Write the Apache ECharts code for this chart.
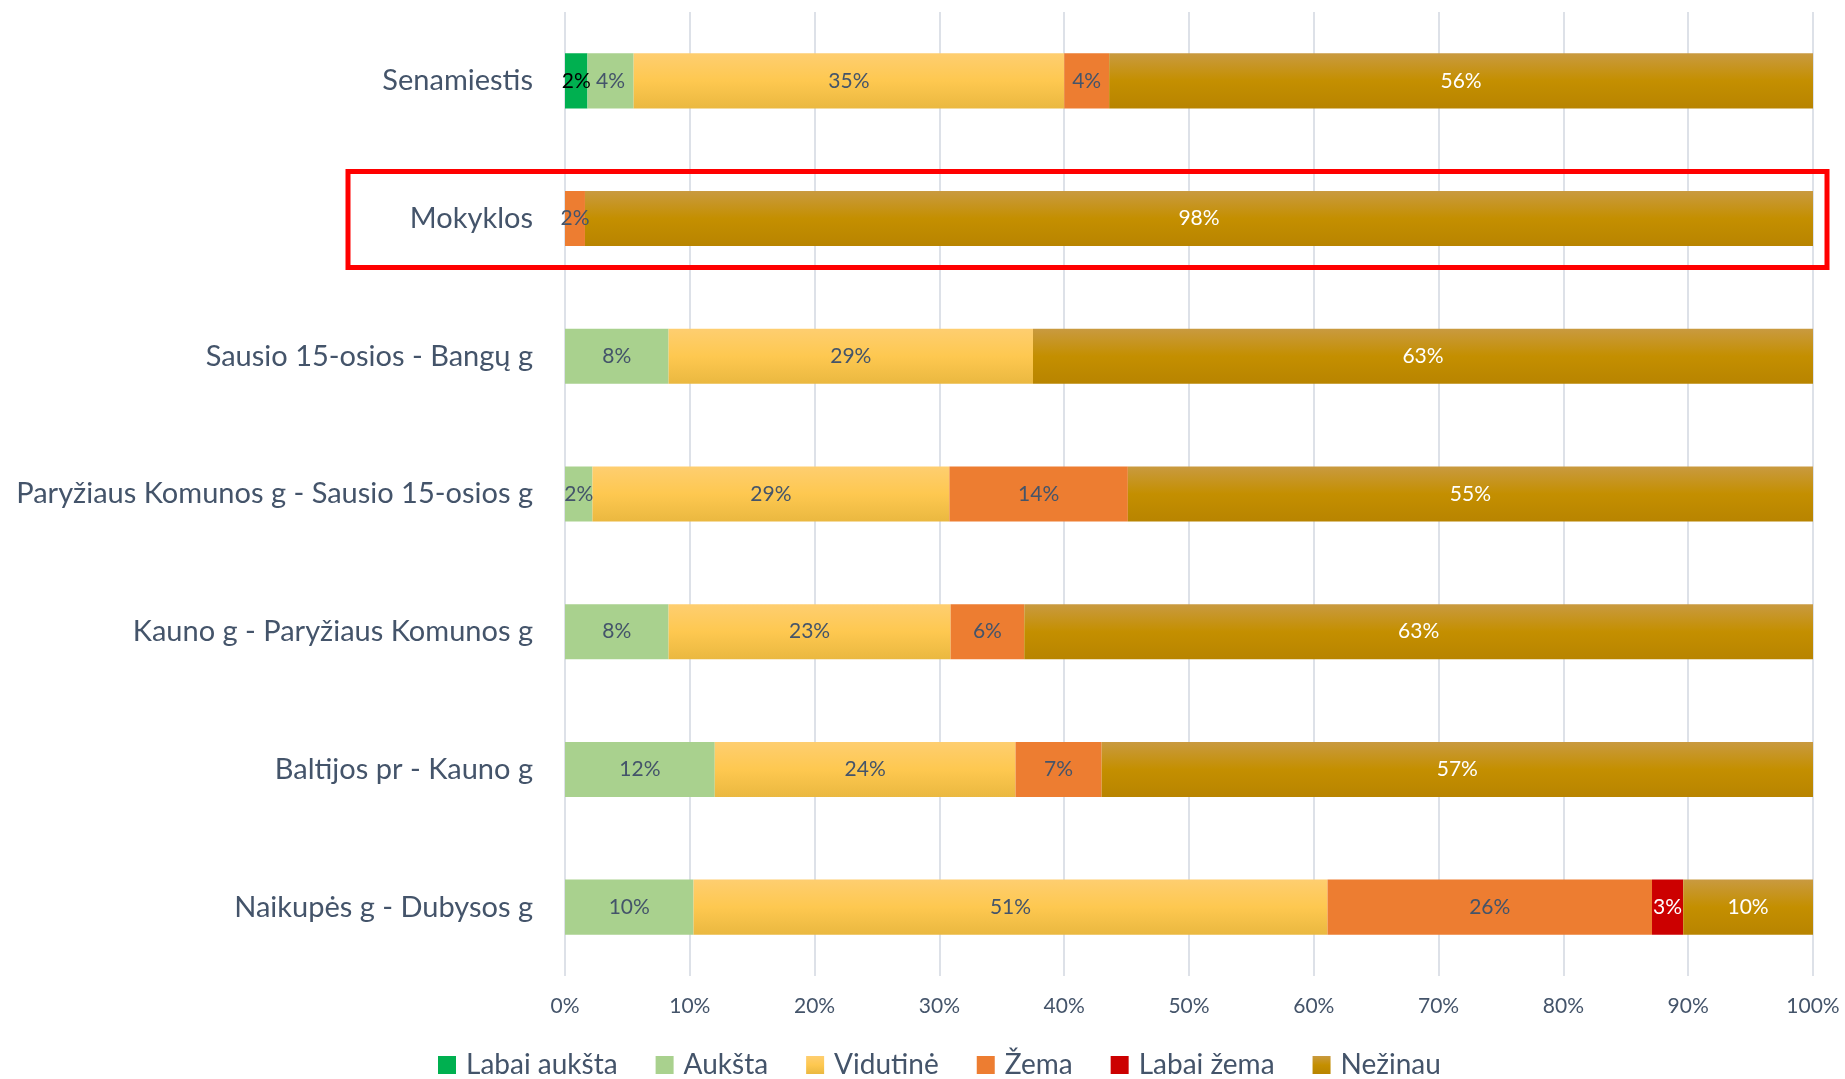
<!DOCTYPE html>
<html>
<head>
<meta charset="utf-8">
<script src="https://cdn.jsdelivr.net/npm/echarts@6/dist/echarts.min.js"></script>
<style>
  html, body { margin: 0; padding: 0; background: #fff; }
  #chart { width: 1845px; height: 1079px; }
</style>
</head>
<body>
<div id="chart"></div>
<script>
var chart = echarts.init(document.getElementById("chart"));

// gatvės / ruožai (iš viršaus į apačią)
var categories = [
    'Senamiestis',
    'Mokyklos',
    'Sausio 15-osios - Bangų g',
    'Paryžiaus Komunos g - Sausio 15-osios g',
    'Kauno g - Paryžiaus Komunos g',
    'Baltijos pr - Kauno g',
    'Naikupės g - Dubysos g'
];
var xTicks = [0, 10, 20, 30, 40, 50, 60, 70, 80, 90, 100];

// procentai
var labaiAuksta = [1.8, 0, 0, 0, 0, 0, 0];
var auksta      = [3.7, 0, 8.3, 2.2, 8.3, 12.0, 10.3];
var vidutine    = [34.5, 0, 29.2, 28.6, 22.6, 24.1, 50.8];
var zema        = [3.6, 1.6, 0, 14.3, 5.9, 6.9, 26.0];
var labaiZema   = [0, 0, 0, 0, 0, 0, 2.5];
var nezinau     = [56.4, 98.4, 62.5, 54.9, 63.2, 57.0, 10.4];

var slate = '#44546A';
var font = 'Lato';

function grad(top, mid, bottom) {
    return new echarts.graphic.LinearGradient(0, 0, 0, 1, [
        {offset: 0, color: top},
        {offset: 0.5, color: mid},
        {offset: 1, color: bottom}
    ]);
}

function makeSeries(name, data, color, labelColor) {
    return {
        name: name,
        type: 'bar',
        stack: 'total',
        barWidth: '40%',
        data: data,
        itemStyle: {color: color},
        label: {
            show: true,
            position: 'inside',
            color: labelColor,
            fontFamily: font,
            fontSize: 21,
            formatter: function (p) {
                return p.value > 0 ? Math.round(p.value) + '%' : '';
            }
        }
    };
}

var series = [
    makeSeries('Labai aukšta', labaiAuksta, '#00B050', '#000000'),
    makeSeries('Aukšta', auksta, '#A9D18E', slate),
    makeSeries('Vidutinė', vidutine, grad('#FECE70', '#FEC850', '#EAB840'), slate),
    makeSeries('Žema', zema, '#ED7D31', slate),
    makeSeries('Labai žema', labaiZema, '#CC0000', '#FFFFFF'),
    makeSeries('Nežinau', nezinau, grad('#C99A40', '#C48F00', '#B88400'), '#FFFFFF')
];

chart.setOption({
    animation: false,
    grid: {left: 565, right: 32, top: 12, bottom: 103},
    legend: {
        top: 1046,
        left: 433,
        itemWidth: 18,
        itemHeight: 18,
        itemGap: 38,
        icon: 'rect',
        textStyle: {color: slate, fontFamily: font, fontSize: 28, padding: [0, 0, 0, 5]},
        data: series.map(function (s) { return s.name; })
    },
    xAxis: {
        type: 'value',
        min: xTicks[0],
        max: xTicks[xTicks.length - 1],
        interval: 10,
        axisLine: {show: false},
        axisTick: {show: false},
        splitLine: {show: true, lineStyle: {color: '#DDE1E8', width: 2}},
        axisLabel: {
            color: slate,
            fontFamily: font,
            fontSize: 21,
            margin: 20,
            formatter: '{value}%'
        }
    },
    yAxis: {
        type: 'category',
        inverse: true,
        data: categories,
        axisLine: {show: false},
        axisTick: {show: false},
        splitLine: {show: false},
        axisLabel: {color: slate, fontFamily: font, fontSize: 29, margin: 32}
    },
    series: series
});

// raudonas rėmelis aplink "Mokyklos"
var yc = chart.convertToPixel({yAxisIndex: 0}, 'Mokyklos');
var xr = chart.convertToPixel({xAxisIndex: 0}, 100);
chart.setOption({
    graphic: [{
        type: 'rect',
        shape: {x: 348, y: yc - 47, width: xr + 14 - 348, height: 96},
        style: {fill: 'none', stroke: '#FF0000', lineWidth: 5},
        z: 10
    }]
});
</script>
</body>
</html>
